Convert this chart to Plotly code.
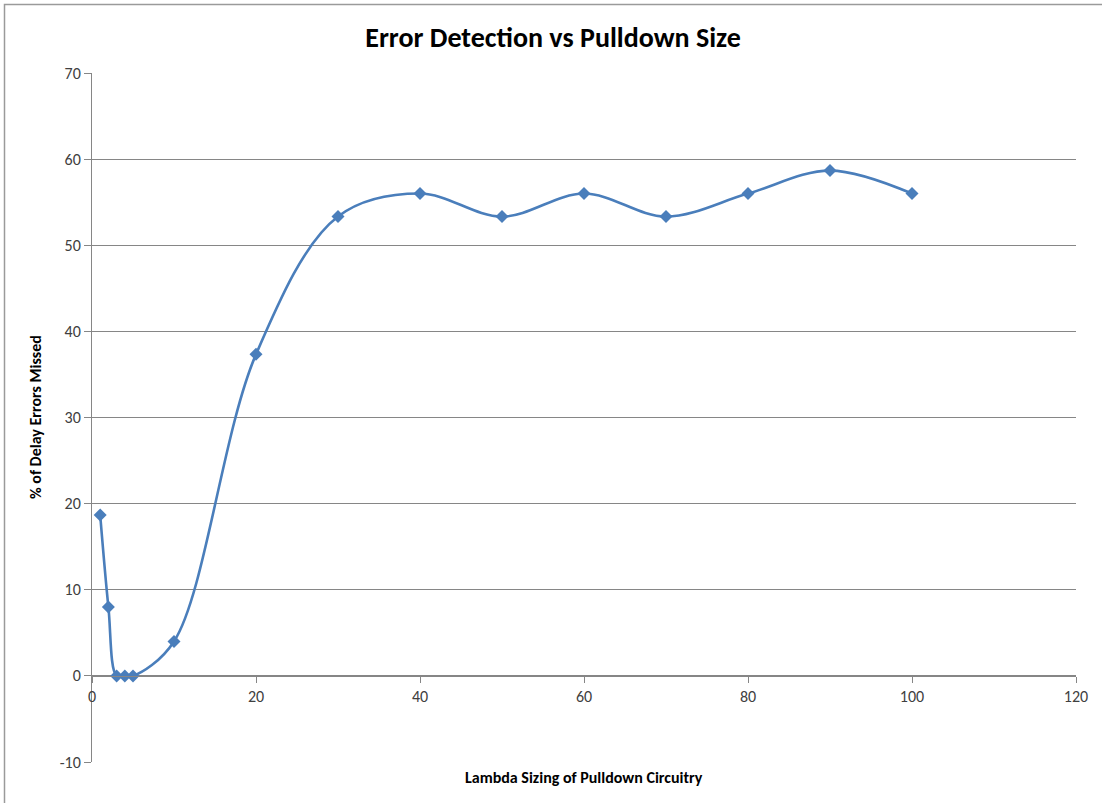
import plotly.graph_objects as go

lambda_size = [1, 2, 3, 4, 5, 10, 20, 30, 40, 50, 60, 70, 80, 90, 100]
pct_missed = [18.67, 8.0, 0.0, 0.0, 0.0, 4.0, 37.33, 53.33, 56.0, 53.33, 56.0, 53.33, 56.0, 58.67, 56.0]

x_ticks = [0, 20, 40, 60, 80, 100, 120]
y_ticks = [-10, 0, 10, 20, 30, 40, 50, 60, 70]
y_tick_text = ["-10", "0", "10", "20", "30", "40", "50", "60", "70"]

title_text = "Error Detection vs Pulldown Size"
x_title = "Lambda Sizing of Pulldown Circuitry"
y_title = "% of Delay Errors Missed"

FONT = "Carlito, Calibri, Lato, 'Open Sans', sans-serif"
BLUE = "#4A7EBB"
GRID = "#868686"

fig = go.Figure()
fig.add_trace(go.Scatter(
    x=lambda_size, y=pct_missed, mode="lines+markers",
    line=dict(color=BLUE, width=2.6, shape="spline", smoothing=1.0),
    marker=dict(symbol="diamond", size=10, color=BLUE),
    showlegend=False, hoverinfo="x+y",
))

W, H = 1102, 803
L, R, T, B = 92, 26, 73, 41
plot_h = H - T - B
plot_w = W - L - R

fig.update_layout(
    width=W, height=H,
    margin=dict(l=L, r=R, t=T, b=B, autoexpand=False),
    paper_bgcolor="white", plot_bgcolor="white",
    font=dict(family=FONT, size=16, color="#404040"),
    title=dict(text=f"<b>{title_text}</b>", x=553 / W, xref="container",
               y=1 - 37 / H, yref="container", xanchor="center", yanchor="middle",
               font=dict(family=FONT, size=28, color="#000000")),
    xaxis=dict(range=[0, 120], tickvals=x_ticks, showgrid=False, zeroline=False,
               showline=True, linecolor=GRID, linewidth=1,
               ticks="outside", ticklen=6, tickcolor=GRID,
               anchor="free", position=10 / 80, automargin=False,
               tickfont=dict(family=FONT, size=16, color="#404040")),
    yaxis=dict(range=[-10, 70], tickvals=y_ticks, ticktext=y_tick_text,
               showgrid=True, gridcolor=GRID, gridwidth=1,
               zeroline=False, showline=True, linecolor=GRID, linewidth=1,
               ticks="outside", ticklen=7, tickcolor=GRID, automargin=False,
               tickfont=dict(family=FONT, size=16, color="#404040")),
    annotations=[
        dict(text=f"<b>{x_title}</b>", xref="paper", yref="paper",
             x=0.5, y=-(778 - (H - B)) / plot_h, xanchor="center", yanchor="middle",
             showarrow=False, font=dict(family=FONT, size=16, color="#000000")),
        dict(text=f"<b>{y_title}</b>", xref="paper", yref="paper", textangle=-90,
             x=(35 - L) / plot_w, y=((H - B) - 417) / plot_h, xanchor="center", yanchor="middle",
             showarrow=False, font=dict(family=FONT, size=16, color="#000000")),
    ],
    shapes=[dict(type="rect", xref="paper", yref="paper",
                 x0=(4.5 - L) / plot_w, x1=(W + 20 - L) / plot_w,
                 y0=-(B + 20) / plot_h, y1=((H - B) - 4.5) / plot_h,
                 line=dict(color="#9a9a9a", width=1.5), layer="below")],
)

fig.write_html("out.html", config={"displayModeBar": False},
               post_script="document.body.style.margin='0';document.body.style.overflow='hidden';")
